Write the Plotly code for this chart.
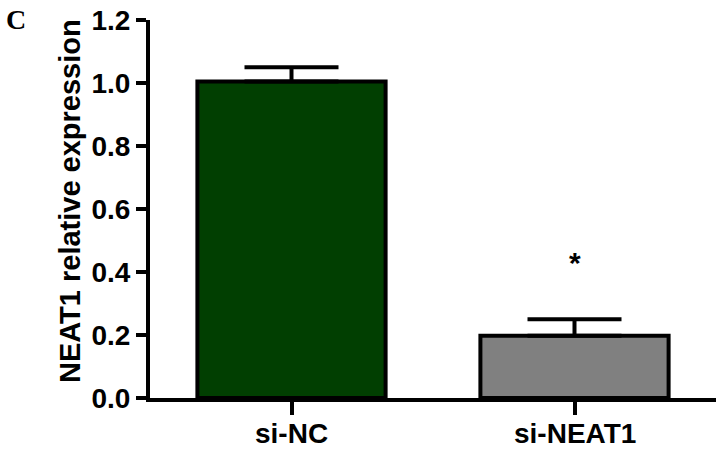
import plotly.graph_objects as go

categories = ["si-NC", "si-NEAT1"]
values = [1.005, 0.198]
errors = [0.045, 0.052]
colors = ["#013f01", "#808080"]
y_ticks = [0.0, 0.2, 0.4, 0.6, 0.8, 1.0, 1.2]
y_ticktext = ["0.0", "0.2", "0.4", "0.6", "0.8", "1.0", "1.2"]
sig_label = "*"
sig_y = 0.43
panel_label = "C"
y_title = "NEAT1 relative expression"

# plot area on screen: x 150..716, y 20..398 (body margin removed via post_script)
W, H = 722, 449
ml, mr, mt, mb = 150, 6, 20, 51
pw = W - ml - mr
ph = H - mt - mb


def px(xs):
    return (xs - ml) / pw


def py(ys):
    return (H - mb - ys) / ph


FAM = "Liberation Sans, Arial, sans-serif"

fig = go.Figure()
fig.add_trace(go.Bar(
    x=categories, y=values,
    width=0.665,
    marker=dict(color=colors, line=dict(color="black", width=4)),
    error_y=dict(type="data", array=errors, arrayminus=[0, 0], symmetric=False,
                 color="black", thickness=4, width=47),
    showlegend=False,
))

annotations = [
    dict(text="<b>" + y_title + "</b>", xref="paper", yref="paper",
         x=px(70), y=py(201), textangle=-90,
         showarrow=False, font=dict(family=FAM, size=29, color="black"),
         xanchor="center", yanchor="middle"),
    dict(text="<b>" + sig_label + "</b>", xref="x", yref="y",
         x=categories[1], y=sig_y, showarrow=False,
         font=dict(family=FAM, size=30, color="black")),
    dict(text="<b>" + panel_label + "</b>", xref="paper", yref="paper",
         x=px(16), y=py(19), showarrow=False,
         font=dict(family="Liberation Serif, Times New Roman, serif", size=28, color="black"),
         xanchor="center", yanchor="middle"),
]
for c in categories:
    annotations.append(dict(
        text="<b>" + c + "</b>", xref="x", yref="paper", x=c, y=0,
        yanchor="middle", yshift=-35, showarrow=False,
        font=dict(family=FAM, size=28, color="black")))

fig.update_layout(
    width=W, height=H,
    margin=dict(l=ml, r=mr, t=mt, b=mb),
    plot_bgcolor="white", paper_bgcolor="white",
    xaxis=dict(
        range=[-0.5, 1.5], showline=True, linecolor="black", linewidth=4,
        ticks="outside", ticklen=13, tickwidth=4, tickcolor="black",
        showticklabels=False, showgrid=False, zeroline=False,
    ),
    yaxis=dict(
        range=[0, 1.2], tickvals=y_ticks,
        ticktext=["<b>" + t + "</b>" for t in y_ticktext],
        showline=True, linecolor="black", linewidth=4,
        ticks="outside", ticklen=10, tickwidth=4, tickcolor="black",
        tickfont=dict(family=FAM, size=28, color="black"),
        ticklabeloverflow="allow",
        showgrid=False, zeroline=False,
    ),
    annotations=annotations,
)

fig.write_html("out.html", config={"displayModeBar": False},
               post_script="document.body.style.margin='0';")
